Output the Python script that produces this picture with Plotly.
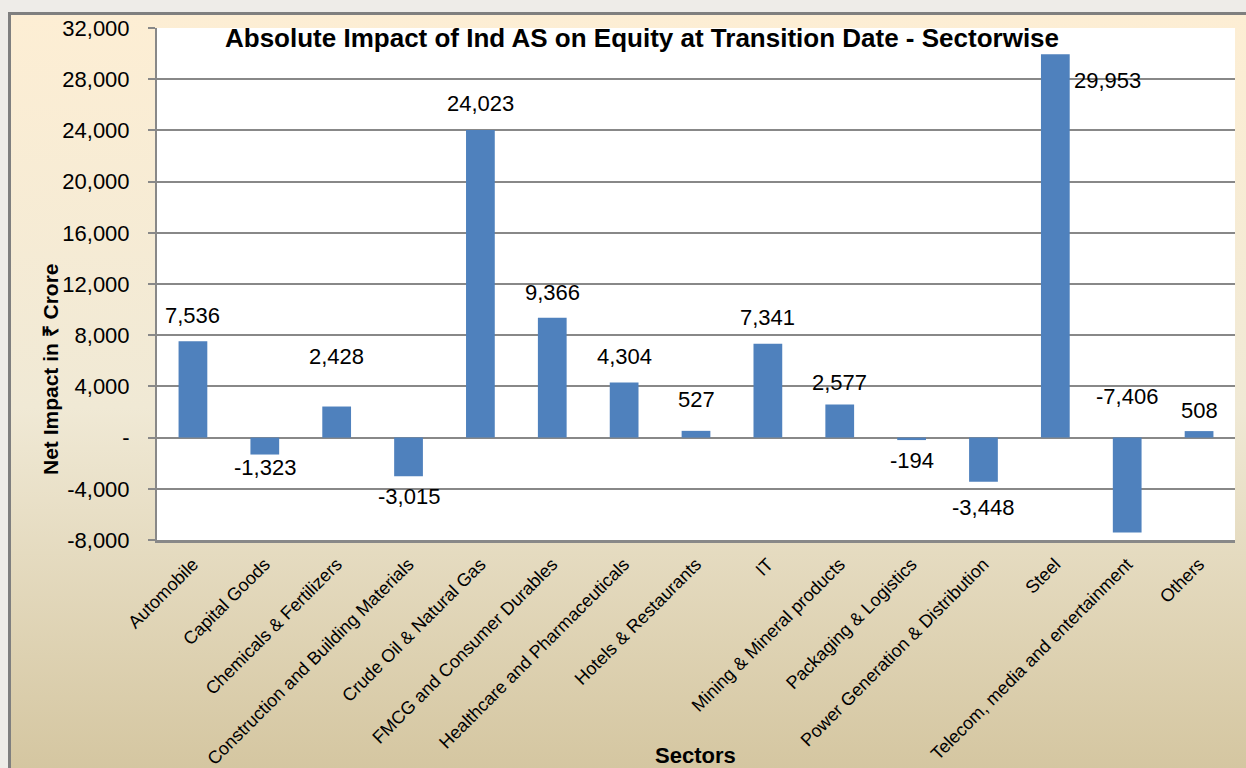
import base64
import plotly.graph_objects as go

# ---------------- data ----------------
sectors = [
    "Automobile", "Capital Goods", "Chemicals & Fertilizers",
    "Construction and Building Materials", "Crude Oil & Natural Gas",
    "FMCG and Consumer Durables", "Healthcare and Pharmaceuticals",
    "Hotels & Restaurants", "IT", "Mining & Mineral products",
    "Packaging & Logistics", "Power Generation & Distribution",
    "Steel", "Telecom, media and entertainment", "Others",
]
impact = [7536, -1323, 2428, -3015, 24023, 9366, 4304, 527, 7341, 2577,
          -194, -3448, 29953, -7406, 508]

y_tickvals = [-8000, -4000, 0, 4000, 8000, 12000, 16000, 20000, 24000, 28000, 32000]
y_ticktext = ["-8,000", "-4,000", "-", "4,000", "8,000", "12,000", "16,000",
              "20,000", "24,000", "28,000", "32,000"]

title_text = "Absolute Impact of Ind AS on Equity at Transition Date - Sectorwise"
x_title = "Sectors"
y_title = "Net Impact in ₹ Crore"

# ---------------- styling (label placement offsets in px) ----------------
label_yshift = [26, -13, 50, -20, 27, 25, 26, 31, 26, 22, -20, -26, -26, 136, 21]
label_xshift = [0, 0, 0, 0, 0, 0, 0, 0, 0, 0, 0, 0, 52, 0, 0]

W, H = 1246, 768
FONT = "Liberation Sans, Arial, sans-serif"
GRID = "#888888"
BAR = "#4F81BD"

# background gradient (parchment-like) with frame
svg = f"""<svg xmlns='http://www.w3.org/2000/svg' width='{W}' height='{H}' viewBox='0 0 {W} {H}' preserveAspectRatio='none'>
<defs><linearGradient id='g' x1='0' y1='0' x2='0' y2='1'>
<stop offset='0' stop-color='#FDEED4'/>
<stop offset='0.5' stop-color='#F0E9D5'/>
<stop offset='1' stop-color='#D2C39C'/>
</linearGradient></defs>
<rect x='0' y='0' width='{W}' height='{H}' fill='#EEECE8'/>
<rect x='9.5' y='13.5' width='{W+20}' height='{H+20}' fill='url(#g)' stroke='#7F7F7F' stroke-width='3'/>
</svg>"""
svg_uri = "data:image/svg+xml;base64," + base64.b64encode(svg.encode()).decode()

x0, x1 = 157 / W, 1235 / W
y0, y1 = 1 - 540 / H, 1 - 28 / H

fig = go.Figure()
fig.add_trace(go.Bar(
    x=sectors, y=impact,
    marker=dict(color=BAR, line=dict(width=0)),
    hoverinfo="x+y",
))

annotations = []
for s, v, dy, dx in zip(sectors, impact, label_yshift, label_xshift):
    annotations.append(dict(
        x=s, y=v, xref="x", yref="y", text=f"{v:,}", showarrow=False,
        yshift=dy, xshift=dx, xanchor="center", yanchor="middle",
        font=dict(family=FONT, size=22, color="#000000"),
    ))
annotations.append(dict(
    x=50 / W, y=1 - 369 / H, xref="paper", yref="paper", text=y_title,
    textangle=-90, showarrow=False, xanchor="center", yanchor="middle",
    font=dict(family=FONT, size=21, color="#000000", weight=700),
))
annotations.append(dict(
    x=695 / W, y=1 - 755 / H, xref="paper", yref="paper", text=x_title,
    showarrow=False, xanchor="center", yanchor="middle",
    font=dict(family=FONT, size=22, color="#000000", weight=700),
))
annotations.append(dict(
    x=642 / W, y=1 - 38 / H, xref="paper", yref="paper", text=title_text,
    showarrow=False, xanchor="center", yanchor="middle",
    font=dict(family=FONT, size=26, color="#000000", weight=700),
))

fig.update_layout(
    width=W, height=H,
    margin=dict(l=0, r=0, t=0, b=0),
    paper_bgcolor="#EEECE8",
    plot_bgcolor="#FFFFFF",
    showlegend=False,
    bargap=0.6,
    font=dict(family=FONT, color="#000000"),
    images=[dict(source=svg_uri, xref="paper", yref="paper", x=0, y=1,
                 sizex=1, sizey=1, sizing="stretch", xanchor="left",
                 yanchor="top", layer="below")],
    shapes=[dict(type="rect", xref="paper", yref="paper", x0=x0, x1=x1,
                 y0=y0, y1=y1, fillcolor="#FFFFFF", line=dict(width=0),
                 layer="below")],
    annotations=annotations,
    xaxis=dict(
        domain=[x0, x1], automargin=False, showgrid=False,
        showline=True, linecolor=GRID, linewidth=2.5,
        tickangle=-45, tickfont=dict(family=FONT, size=18, color="#000000"),
        ticks="", ticklabelstandoff=4, fixedrange=True,
    ),
    yaxis=dict(
        domain=[y0, y1], automargin=False, range=[-8000, 32000],
        tickvals=y_tickvals, ticktext=y_ticktext,
        showgrid=True, gridcolor=GRID, gridwidth=1.5, zeroline=False,
        showline=True, linecolor=GRID, linewidth=2,
        ticks="outside", ticklen=7, tickcolor=GRID, tickwidth=1.5,
        tickfont=dict(family=FONT, size=22, color="#000000"),
        ticklabelstandoff=14, fixedrange=True,
    ),
)

fig.write_html("out.html", config={"displayModeBar": False},
               post_script="document.body.style.margin='0';")
